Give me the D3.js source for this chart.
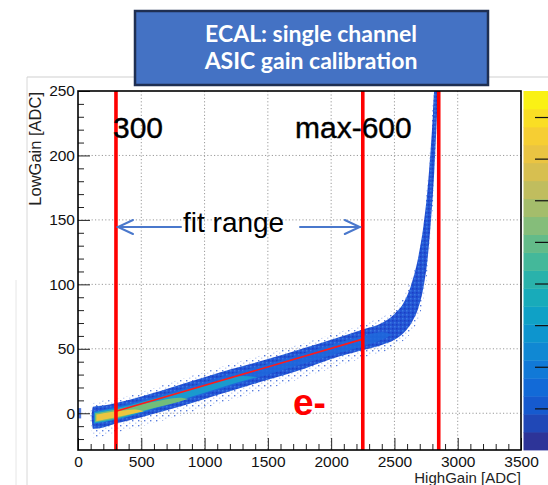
<!DOCTYPE html>
<html>
<head>
<meta charset="utf-8">
<script src="https://cdn.jsdelivr.net/npm/d3@7"></script>
<style>
  html, body { margin: 0; padding: 0; background: #fff; }
  svg { display: block; font-family: "Liberation Sans", Arial, sans-serif; }
</style>
</head>
<body>
<svg id="chart" width="548" height="485"></svg>
<script>
// ECAL single channel gain calibration: LowGain vs HighGain 2D histogram

// axis ticks
const xMajor = [0, 500, 1000, 1500, 2000, 2500, 3000, 3500];
const yMajor = [0, 50, 100, 150, 200, 250];
const zTicks = [0, 20, 40, 60, 80, 100, 120, 140, 160];

// density levels of the histogram: [HighGain, LowGain low, LowGain high]
const haloRows = [
  [100, -6, 1], [120, -19, 8], [300, -15, 11], [800, -2, 26], [1200, 10, 38],
  [1600, 22, 49], [2000, 35, 61], [2250, 43, 69], [2500, 52, 81], [2640, 64, 106],
  [2700, 76, 126], [2740, 94, 155], [2790, 142, 218], [2815, 180, 250], [2850, 250, 250]
];
const bandRows = [
  [108, -4, -2], [118, -12, 5], [200, -11, 6], [300, -8, 8], [500, -3, 13],
  [800, 5, 22], [1000, 11, 28], [1200, 17, 34], [1500, 26, 42], [1800, 35, 51],
  [2000, 42, 57], [2250, 49, 65], [2400, 53, 70], [2500, 57, 77], [2580, 63, 87],
  [2640, 71, 102], [2690, 82, 122], [2730, 98, 146], [2760, 118, 172], [2785, 145, 203],
  [2805, 172, 233], [2815, 188, 250], [2830, 218, 250], [2845, 250, 250]
];
const midRows = [
  [125, -8, 1], [300, -5, 5], [800, 9, 18], [1200, 21, 30], [1600, 33, 41],
  [2000, 45, 53], [2250, 52, 60], [2400, 57, 63], [2480, 61, 61]
];
const cyanRows = [[128, -8, 1], [300, -5, 4], [700, 7, 14], [1000, 16, 22], [1300, 25, 29], [1420, 28, 28]];
const greenRows = [[135, -7, 0], [300, -4, 3], [600, 4, 9], [800, 9, 12], [870, 11, 11]];
const yellowRows = [[145, -6, -1], [200, -5, 0], [300, -3, 1.5], [450, 0, 3], [520, 1.5, 1.5]];
const edgeBin = [[0, 25, -4, 4]];

// fit and cut lines
const fitPoints = [[300, 1.5], [2250, 57.5]];
const cutLines = [300, 2250, 2850];

// kBird palette stops
const birdStops = ['#352a87', '#0f5cdd', '#1481d6', '#06a4ca', '#2eb7a4', '#87bf77', '#d1bb59', '#fec832', '#f9fb0e'];

const svg = d3.select('#chart');

const x = d3.scaleLinear().domain([0, 3500]).range([78, 521]);
const y = d3.scaleLinear().domain([-28.5, 250]).range([450, 91]);

// faint canvas edges
svg.append('line').attr('x1', 27).attr('x2', 27).attr('y1', 77).attr('y2', 485)
  .attr('stroke', '#d8d8d8').attr('stroke-width', 1);
svg.append('line').attr('x1', 16).attr('x2', 16).attr('y1', 280).attr('y2', 485)
  .attr('stroke', '#e6e6e6').attr('stroke-width', 1);
svg.append('line').attr('x1', 27).attr('x2', 548).attr('y1', 77).attr('y2', 77)
  .attr('stroke', '#cfcfcf').attr('stroke-width', 1);

// plot background
svg.append('rect').attr('x', 78).attr('y', 91).attr('width', 443).attr('height', 359).attr('fill', '#fff');

const defs = svg.append('defs');
defs.append('clipPath').attr('id', 'plot-clip')
  .append('rect').attr('x', 78).attr('y', 91).attr('width', 443).attr('height', 359);

// sparse hits around the band
const pat = defs.append('pattern').attr('id', 'speckle')
  .attr('width', 6).attr('height', 5).attr('patternUnits', 'userSpaceOnUse');
pat.append('rect').attr('x', 0).attr('y', 0).attr('width', 1.4).attr('height', 1.4).attr('fill', '#2f5cd6').attr('opacity', 0.8);
pat.append('rect').attr('x', 3.2).attr('y', 2.6).attr('width', 1.1).attr('height', 1.1).attr('fill', '#5a80e0').attr('opacity', 0.6);

// lighter hits inside the dense band
const pat2 = defs.append('pattern').attr('id', 'grain')
  .attr('width', 4).attr('height', 4).attr('patternUnits', 'userSpaceOnUse');
pat2.append('rect').attr('width', 4).attr('height', 4).attr('fill', '#2355d5');
pat2.append('rect').attr('x', 0).attr('y', 0).attr('width', 1.5).attr('height', 1.5).attr('fill', '#1b3fc4');
pat2.append('rect').attr('x', 2).attr('y', 2).attr('width', 1.5).attr('height', 1.5).attr('fill', '#3a78e2');

// grid
const grid = svg.append('g').attr('stroke', '#9a9a9a').attr('stroke-width', 1).attr('stroke-dasharray', '1.2,2.2');
grid.selectAll('.gx').data(xMajor.filter(d => d > 0 && d < 3500)).enter().append('line')
  .attr('x1', d => x(d)).attr('x2', d => x(d)).attr('y1', 91).attr('y2', 450);
grid.selectAll('.gy').data(yMajor.filter(d => d < 250)).enter().append('line')
  .attr('x1', 78).attr('x2', 521).attr('y1', d => y(d)).attr('y2', d => y(d));

// histogram levels
const plot = svg.append('g').attr('clip-path', 'url(#plot-clip)');
const area = d3.area()
  .x(d => x(d[0])).y0(d => y(d[1])).y1(d => y(d[2]))
  .curve(d3.curveMonotoneX);

const levels = [
  { rows: haloRows, fill: 'url(#speckle)' },
  { rows: bandRows, fill: 'url(#grain)' },
  { rows: midRows, fill: '#1f68dc', opacity: 0.85 },
  { rows: cyanRows, fill: '#19a0cc', opacity: 0.9 },
  { rows: greenRows, fill: '#72bd7a' },
  { rows: yellowRows, fill: '#ecc640' }
];
levels.forEach(l => {
  plot.append('path').datum(l.rows).attr('d', area).attr('fill', l.fill)
    .attr('opacity', l.opacity || 1);
});
plot.selectAll('.edge').data(edgeBin).enter().append('rect')
  .attr('x', d => x(d[0])).attr('width', d => x(d[1]) - x(d[0]))
  .attr('y', d => y(d[3])).attr('height', d => y(d[2]) - y(d[3]))
  .attr('fill', '#2a5bd7').attr('opacity', 0.8);

// fit line
plot.append('path').datum(fitPoints)
  .attr('d', d3.line().x(d => x(d[0])).y(d => y(d[1])))
  .attr('stroke', '#ff1a1a').attr('stroke-width', 1.6).attr('fill', 'none');

// cut lines
plot.selectAll('.cut').data(cutLines).enter().append('line')
  .attr('x1', d => x(d)).attr('x2', d => x(d)).attr('y1', 91).attr('y2', 450)
  .attr('stroke', '#ff0000').attr('stroke-width', 3.6);

// axes (ROOT style, ticks inside)
function styleAxis(g) {
  g.select('.domain').remove();
  g.selectAll('line').attr('stroke', '#222');
  g.selectAll('text').attr('fill', '#111').attr('font-size', 15.5)
    .attr('font-family', '"Liberation Sans", Arial, sans-serif');
}
const xMinor = d3.range(0, 3501, 100).filter(d => d % 500 !== 0);
const yMinor = d3.range(-20, 251, 10).filter(d => d % 50 !== 0);

svg.append('g').attr('transform', 'translate(0,450)')
  .call(d3.axisBottom(x).tickValues(xMinor).tickSize(-6).tickFormat(''))
  .call(styleAxis);
svg.append('g').attr('transform', 'translate(0,450)')
  .call(d3.axisBottom(x).tickValues(xMajor).tickSize(-12).tickPadding(6).tickFormat(d3.format('d')))
  .call(styleAxis);
svg.append('g').attr('transform', 'translate(78,0)')
  .call(d3.axisLeft(y).tickValues(yMinor).tickSize(-6).tickFormat(''))
  .call(styleAxis);
svg.append('g').attr('transform', 'translate(78,0)')
  .call(d3.axisLeft(y).tickValues(yMajor).tickSize(-12).tickPadding(3).tickFormat(d3.format('d')))
  .call(styleAxis);

// frame
svg.append('rect').attr('x', 78).attr('y', 91).attr('width', 443).attr('height', 359)
  .attr('fill', 'none').attr('stroke', '#000').attr('stroke-width', 1.6);

// axis titles
svg.append('text').attr('transform', 'translate(41,92) rotate(-90)')
  .attr('text-anchor', 'end').attr('font-size', 16.5).attr('fill', '#222').text('LowGain [ADC]');
svg.append('text').attr('x', 521).attr('y', 483)
  .attr('text-anchor', 'end').attr('font-size', 15).attr('fill', '#222').text('HighGain [ADC]');

// colour bar
const z = d3.scaleLinear().domain([0, 172.5]).range([450, 91]);
const nBands = 20;
const bird = d3.interpolateRgbBasis(birdStops);
const bandH = 359 / nBands;
svg.append('g').selectAll('rect').data(d3.range(nBands)).enter().append('rect')
  .attr('x', 523.5).attr('width', 40)
  .attr('y', i => 450 - (i + 1) * bandH).attr('height', bandH + 0.4)
  .attr('fill', i => bird((i + 0.5) / nBands));
svg.append('g').attr('transform', 'translate(548,0)')
  .call(d3.axisRight(z).tickValues(zTicks.filter(d => d > 0)).tickSize(-13).tickFormat(''))
  .call(g => g.select('.domain').remove())
  .call(g => g.selectAll('line').attr('stroke', '#111').attr('stroke-width', 1.2));

// annotations
svg.append('text').attr('x', 113).attr('y', 138).attr('font-size', 30).attr('fill', '#000')
  .attr('stroke', '#000').attr('stroke-width', 0.4).text('300');
svg.append('text').attr('x', 295).attr('y', 138).attr('font-size', 30).attr('fill', '#000')
  .attr('stroke', '#000').attr('stroke-width', 0.4).text('max-600');
svg.append('text').attr('x', 183).attr('y', 232).attr('font-size', 28).attr('fill', '#000').text('fit range');
svg.append('text').attr('x', 293).attr('y', 415).attr('font-size', 37).attr('font-weight', 'bold')
  .attr('fill', '#ff0000').text('e-');

const arrowColor = '#4a78cc';
const arrows = svg.append('g').attr('stroke', arrowColor).attr('stroke-width', 2).attr('fill', 'none')
  .attr('stroke-linecap', 'round');
arrows.append('line').attr('x1', x(300) + 2).attr('x2', 181).attr('y1', 227).attr('y2', 227);
arrows.append('path').attr('d', `M${x(300) + 17},220 L${x(300) + 2},227 L${x(300) + 17},234`);
arrows.append('line').attr('x1', 300).attr('x2', x(2250) - 3).attr('y1', 227).attr('y2', 227);
arrows.append('path').attr('d', `M${x(2250) - 18},220 L${x(2250) - 3},227 L${x(2250) - 18},234`);

// title box
svg.append('rect').attr('x', 135).attr('y', 11).attr('width', 353).attr('height', 74)
  .attr('fill', '#4472c4').attr('stroke', '#1f2f52').attr('stroke-width', 2.5);
svg.append('text').attr('x', 311).attr('y', 42).attr('text-anchor', 'middle')
  .attr('font-family', 'Lato, "Open Sans", sans-serif').attr('font-weight', 'bold')
  .attr('font-size', 23).attr('fill', '#fff').text('ECAL: single channel');
svg.append('text').attr('x', 311).attr('y', 69).attr('text-anchor', 'middle')
  .attr('font-family', 'Lato, "Open Sans", sans-serif').attr('font-weight', 'bold')
  .attr('font-size', 23).attr('fill', '#fff').text('ASIC gain calibration');
</script>
</body>
</html>
